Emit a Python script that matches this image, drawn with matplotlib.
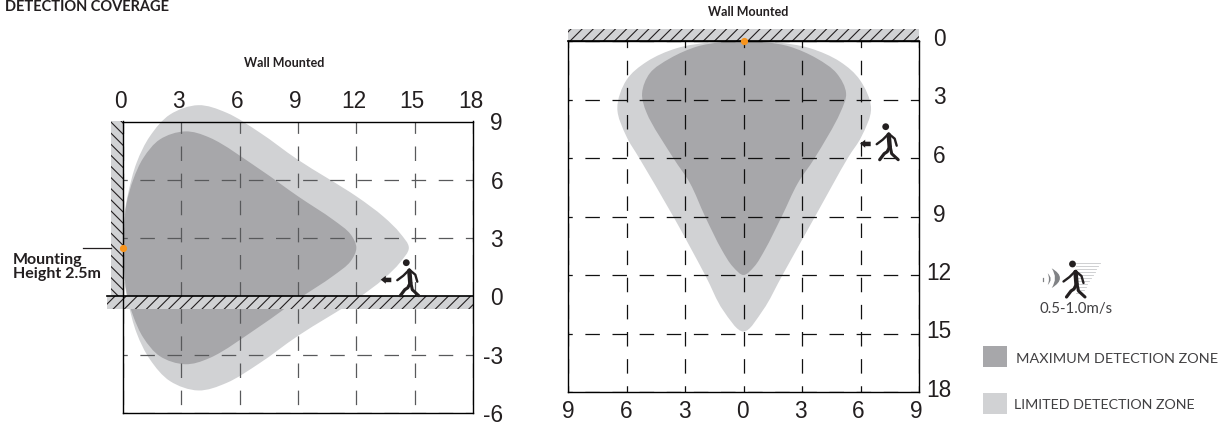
import matplotlib
matplotlib.use("Agg")

import numpy as np
import matplotlib.pyplot as plt
from matplotlib.patches import PathPatch, Rectangle, Circle, Polygon
from matplotlib.path import Path
from matplotlib.transforms import ScaledTranslation

# --- Config ---
W, H = 1219, 425
DARK = "#A7A7AA"
LIGHT = "#D1D2D4"
INK = "#231F20"
ORANGE = "#F7941D"
HEAD_FONT = "Lato"

plt.rcParams["font.family"] = ["Liberation Sans", "DejaVu Sans"]
plt.rcParams["axes.unicode_minus"] = False
plt.rcParams["hatch.linewidth"] = 0.8

# --- Data: side view (wall on the left, floor at 0) ---
side_xticks = [0, 3, 6, 9, 12, 15, 18]
side_yticks = [9, 6, 3, 0, -3, -6]

side_limited_x = [0, 0.05, 0.27, 0.7, 1.39, 2.42, 3.87, 5.33, 7.05, 9.0, 12.0, 13.4, 14.25, 14.7,
                  14.25, 13.4, 12.0, 9.0, 7.05, 5.33, 3.87, 2.42, 1.39, 0.7, 0.27, 0.05]
side_limited_y = [2.5, 4.05, 5.33, 6.88, 8.25, 9.36, 9.84, 9.45, 8.42, 7.03, 5.15, 4.1, 3.25, 2.5,
                  1.75, 0.9, -0.15, -2.03, -3.42, -4.45, -4.84, -4.36, -3.25, -1.88, -0.33, 0.95]

side_max_x = [0, 0.04, 0.19, 0.53, 1.05, 1.9, 3.19, 4.48, 7.05, 9.0, 10.8, 11.7, 12.0,
              11.7, 10.8, 9.0, 7.05, 4.48, 3.19, 1.9, 1.05, 0.53, 0.19, 0.04]
side_max_y = [2.5, 3.5, 4.82, 6.02, 7.13, 8.08, 8.49, 8.16, 6.53, 5.15, 3.95, 3.2, 2.5,
              1.8, 1.05, -0.15, -1.53, -3.16, -3.49, -3.08, -2.13, -1.02, 0.18, 1.5]

# --- Data: ceiling view (wall along the top) ---
top_xticks = [-9, -6, -3, 0, 3, 6, 9]
top_xlabels = ["9", "6", "3", "0", "3", "6", "9"]
top_yticks = [0, 3, 6, 9, 12, 15, 18]

top_limited_x = [0, 1.7, 3.41, 4.95, 5.97, 6.54, 6.05, 5.35, 3.67, 2.0, 1.0, 0,
                 -1.05, -1.97, -3.6, -5.35, -6.0, -6.47, -6.0, -4.96, -3.43, -1.7]
top_limited_y = [0, 0.07, 0.37, 1.06, 2.0, 3.45, 4.9, 6.0, 9.0, 12.0, 13.8, 14.9,
                 13.8, 12.0, 9.0, 6.0, 4.9, 3.45, 2.0, 1.06, 0.37, 0.07]

top_max_x = [0, 1.19, 2.38, 3.75, 4.78, 5.26, 4.95, 3.65, 2.78, 1.96, 1.1, 0.55, 0,
             -0.55, -1.12, -1.97, -2.74, -3.6, -4.96, -5.2, -4.8, -3.77, -2.4, -1.2]
top_max_y = [0, 0.07, 0.29, 0.89, 1.66, 2.68, 3.7, 6.0, 7.3, 9.0, 10.7, 11.57, 12.0,
             11.57, 10.7, 9.0, 7.3, 6.0, 3.7, 2.68, 1.65, 0.89, 0.29, 0.07]

legend_labels = ["MAXIMUM DETECTION ZONE", "LIMITED DETECTION ZONE"]


def smooth_closed(xs, ys):
    # closed centripetal Catmull-Rom outline as bezier segments
    p = np.column_stack([xs, ys])
    n = len(p)
    verts = [p[0]]
    codes = [Path.MOVETO]
    for i in range(n):
        p0, p1, p2, p3 = p[i - 1], p[i], p[(i + 1) % n], p[(i + 2) % n]
        d1 = np.linalg.norm(p1 - p0) ** 0.5
        d2 = np.linalg.norm(p2 - p1) ** 0.5
        d3 = np.linalg.norm(p3 - p2) ** 0.5
        b1 = (d1**2 * p2 - d2**2 * p0 + (2 * d1**2 + 3 * d1 * d2 + d2**2) * p1) / (3 * d1 * (d1 + d2))
        b2 = (d3**2 * p1 - d2**2 * p3 + (2 * d3**2 + 3 * d3 * d2 + d2**2) * p2) / (3 * d3 * (d3 + d2))
        verts += [b1, b2, p2]
        codes += [Path.CURVE4] * 3
    return Path(verts, codes)


def px_axes(fig, left, right, top, bottom):
    return fig.add_axes([left / W, 1 - bottom / H, (right - left) / W, (bottom - top) / H])


def shift_px(lab, dx, dy):
    lab.set_transform(lab.get_transform() + ScaledTranslation(dx / 100, dy / 100, fig.dpi_scale_trans))


def style_chart(ax, color, xgrid_phase, ygrid_phase):
    # dash period is about 27 px, phases line the dashes up with the reference
    ax.set_axisbelow(False)
    ax.xaxis.grid(True, color=color, lw=0.9, ls=(xgrid_phase, (11.6, 10.1)))
    ax.yaxis.grid(True, color=color, lw=0.9, ls=(ygrid_phase, (11.6, 10.1)))
    ax.tick_params(length=0, labelsize=16.3, colors=INK)
    for s in ax.spines.values():
        s.set_linewidth(1.0)
        s.set_color("black")
        s.set_zorder(5)


def draw_zone(ax, xs, ys, color):
    ax.add_patch(PathPatch(smooth_closed(xs, ys), fc=color, ec="none", zorder=1, clip_on=False))


def draw_walker(ov, hx, hy, arrow=True):
    # icon is kept relative to the centre of the head
    ov.add_patch(Circle((hx, hy), 3.4, fc=INK, ec="none"))
    kw = dict(color=INK, solid_capstyle="round", solid_joinstyle="round")
    ov.plot([hx + 3, hx + 4], [hy + 8, hy + 20], lw=3.2, **kw)
    ov.plot([hx + 4, hx + 1.5, hx - 1.5, hx - 6], [hy + 20, hy + 25, hy + 27, hy + 33], lw=2.3, **kw)
    ov.plot([hx + 4.5, hx + 6, hx + 12.5], [hy + 20, hy + 27, hy + 33], lw=2.2, **kw)
    ov.plot([hx - 9, hx - 3, hx + 3], [hy + 17.5, hy + 13, hy + 7], lw=1.7, **kw)
    ov.plot([hx + 3, hx + 9, hx + 11], [hy + 7, hy + 12, hy + 19], lw=1.7, **kw)
    if arrow:
        ov.add_patch(Polygon([(hx - 25.6, hy + 17), (hx - 20.5, hy + 13), (hx - 20.5, hy + 15),
                              (hx - 15, hy + 15), (hx - 15, hy + 19.5), (hx - 20.5, hy + 19.5),
                              (hx - 20.5, hy + 21)], fc=INK, ec="none"))


def crescent(ov, x, top, bottom, mid, ctrl_out, ctrl_in):
    verts = [(x, top), (ctrl_out, mid), (x, bottom), (ctrl_in, mid), (x, top)]
    codes = [Path.MOVETO, Path.CURVE3, Path.CURVE3, Path.CURVE3, Path.CURVE3]
    ov.add_patch(PathPatch(Path(verts, codes), fc="#808285", ec="none"))


fig = plt.figure(figsize=(W / 100, H / 100), dpi=100, facecolor="white")

# --- Side view ---
ax1 = px_axes(fig, 123, 473, 121.5, 413)
ax1.set_xlim(0, 18)
ax1.set_ylim(-6, 9)
ax1.set_xticks(side_xticks)
ax1.set_yticks(side_yticks)
ax1.xaxis.tick_top()
ax1.yaxis.tick_right()
style_chart(ax1, "#58595B", 15, 8.2)
ax1.tick_params(axis="x", pad=6)
ax1.tick_params(axis="y", pad=21.6)
for lab in ax1.get_yticklabels():
    lab.set_ha("right")
for lab in ax1.get_xticklabels():
    shift_px(lab, -2.5, 0)
draw_zone(ax1, side_limited_x, side_limited_y, LIGHT)
draw_zone(ax1, side_max_x, side_max_y, DARK)
ax1.add_patch(Rectangle((-0.62, 0), 0.62, 9, fc=LIGHT, ec=INK, lw=0, hatch="\\\\\\", zorder=3, clip_on=False))
ax1.add_patch(Rectangle((-0.8, -0.63), 18.8, 0.63, fc=LIGHT, ec=INK, lw=0, hatch="///", zorder=3, clip_on=False))
ax1.plot([-0.8, 18], [0, 0], color="black", lw=1.2, zorder=6, clip_on=False)
ax1.plot([-2.05, -0.62], [2.5, 2.5], color=INK, lw=0.9, clip_on=False, zorder=6)
ax1.plot([0], [2.5], "o", color=ORANGE, ms=5.2, mew=0, zorder=7, clip_on=False)

# --- Ceiling view ---
ax2 = px_axes(fig, 568, 919, 41, 392)
ax2.set_xlim(-9, 9)
ax2.set_ylim(18, 0)
ax2.set_xticks(top_xticks, top_xlabels)
ax2.set_yticks(top_yticks)
ax2.yaxis.tick_right()
style_chart(ax2, "#111111", 6.6, 8.2)
ax2.tick_params(axis="x", pad=6)
ax2.tick_params(axis="y", pad=14.4)
for lab in ax2.get_yticklabels():
    lab.set_ha("center")
    shift_px(lab, 0, 4)
for i, lab in enumerate(ax2.get_xticklabels()):
    shift_px(lab, -0.5 * i, 0)
draw_zone(ax2, top_limited_x, top_limited_y, LIGHT)
draw_zone(ax2, top_max_x, top_max_y, DARK)
ax2.add_patch(Rectangle((-9, -0.6), 18, 0.6, fc=LIGHT, ec=INK, lw=0, hatch="///", zorder=3, clip_on=False))
ax2.plot([-9, 9], [0, 0], color="black", lw=1.2, zorder=6, clip_on=False)
ax2.plot([0], [0], "o", color=ORANGE, ms=5.2, mew=0, zorder=7, clip_on=False)

# --- Overlay in pixels for icons, legend and captions ---
ov = fig.add_axes([0, 0, 1, 1], zorder=10)
ov.set_xlim(0, W)
ov.set_ylim(H, 0)
ov.axis("off")

draw_walker(ov, 406.3, 262.7)
draw_walker(ov, 885.7, 126.7)

# moving-speed icon
for i, y in enumerate(np.arange(263, 296, 3)):
    ov.plot([1076, 1100 - i * 1.8], [y, y], color="#C8C9CB", lw=0.6)
draw_walker(ov, 1072.5, 264, arrow=False)
crescent(ov, 1051.7, 268.3, 288, 278, 1068.3, 1058.3)
crescent(ov, 1047.7, 273.3, 285, 279, 1053.7, 1050.3)
ov.plot([1043.3, 1043.3], [277.5, 281], color="#808285", lw=0.9)
ov.text(1075.7, 309, "0.5-1.0m/s", ha="center", va="center", fontsize=10.8, color="#414042", family=HEAD_FONT)

ov.add_patch(Rectangle((983, 346), 24, 21, fc=DARK, ec="none"))
ov.add_patch(Rectangle((983, 393), 24, 21, fc=LIGHT, ec="none"))
ov.text(1016, 359, legend_labels[0], ha="left", va="center", fontsize=10.35, color="#414042", family=HEAD_FONT)
ov.text(1014, 405, legend_labels[1], ha="left", va="center", fontsize=10.3, color="#414042", family=HEAD_FONT)

ov.text(5, 7, "DETECTION COVERAGE", ha="left", va="center", fontsize=10.5, fontweight="bold", color=INK, family=HEAD_FONT)
ov.text(284, 63, "Wall Mounted", ha="center", va="center", fontsize=9, fontweight="bold", color=INK, family=HEAD_FONT)
ov.text(748, 11.5, "Wall Mounted", ha="center", va="center", fontsize=9, fontweight="bold", color=INK, family=HEAD_FONT)
ov.text(13, 267, "Mounting\nHeight 2.5m", ha="left", va="center", fontsize=11.5, fontweight="bold", color=INK,
        family=HEAD_FONT, linespacing=1.0)

fig.savefig("out.png", dpi=100)
